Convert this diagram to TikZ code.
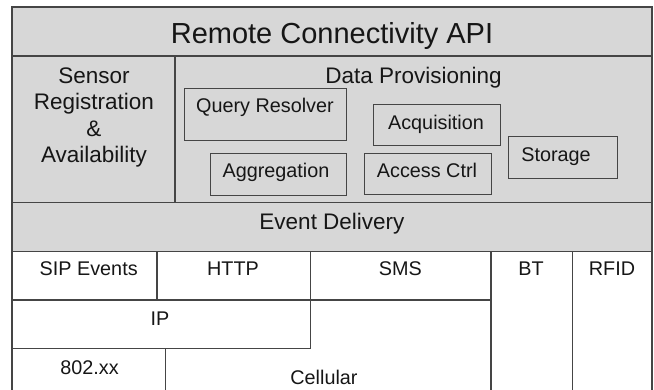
\documentclass[tikz,border=0pt]{standalone}
\usepackage{fontspec}
\setmainfont{Liberation Sans}
\usepackage{tikz}

\definecolor{layergray}{HTML}{D7D7D7}
\definecolor{linegray}{HTML}{454545}
\definecolor{textgray}{HTML}{161616}

\begin{document}
\begin{tikzpicture}[x=1pt, y=-1pt,
    every node/.style={inner sep=0pt, anchor=base, text=textgray},
    title/.style={font=\fontsize{29}{34}\selectfont},
    head/.style={font=\fontsize{22.5}{26.5}\selectfont, align=center},
    lbl/.style={font=\fontsize{19.8}{24}\selectfont}]
    \useasboundingbox (0,0) rectangle (654,390);
    \begin{scope}[draw=linegray, line width=1.2pt]
        % grey layers
        \fill[layergray] (12,7) rectangle (652,251);
        \draw (12,390) -- (12,7) -- (652,7) -- (652,390);
        \draw (12,56) -- (652,56);
        \draw (175,56) -- (175,202.5);
        \draw (12,202.5) -- (652,202.5);
        \draw (12,251.5) -- (652,251.5);
        % transports
        \draw (12,300) -- (491,300);
        \draw (12,348.3) -- (310.5,348.3);
        \draw (157,251.5) -- (157,300);
        \draw (310.5,251.5) -- (310.5,348.3);
        \draw (491,251.5) -- (491,390);
        \draw (572.5,251.5) -- (572.5,390);
        \draw (165.7,348.3) -- (165.7,390);
    \end{scope}
    \begin{scope}[draw=linegray, line width=1pt]
        \draw (184,88.3) rectangle (346.7,140.7);
        \draw (373.3,105) rectangle (500,146);
        \draw (508.7,137) rectangle (617.7,178.3);
        \draw (210.7,154) rectangle (346.7,195.5);
        \draw (364.3,153.7) rectangle (491.7,195);
    \end{scope}
    \node[title] at (332,43.3) (api) {Remote Connectivity API};
    \node[head, anchor=center] at (94,117.4) (sensor) {Sensor\\Registration\\\&\\Availability};
    \node[head] at (413.5,84) (prov) {Data Provisioning};
    \node[lbl] at (265,113) (qres) {Query Resolver};
    \node[lbl] at (436,130) (acq) {Acquisition};
    \node[lbl] at (556,161.7) (stor) {Storage};
    \node[lbl] at (276,178) (aggr) {Aggregation};
    \node[lbl] at (427,178) (acc) {Access Ctrl};
    \node[head] at (332,229.5) (event) {Event Delivery};
    \node[lbl] at (88.7,276) (sip) {SIP Events};
    \node[lbl] at (233,276) (http) {HTTP};
    \node[lbl] at (400.3,276) (sms) {SMS};
    \node[lbl] at (531,276) (bt) {BT};
    \node[lbl] at (612,276) (rfid) {RFID};
    \node[lbl] at (160,325.5) (ip) {IP};
    \node[lbl] at (89.5,374) (wlan) {802.xx};
    \node[lbl] at (324,384.5) (cell) {Cellular};
\end{tikzpicture}
\end{document}
